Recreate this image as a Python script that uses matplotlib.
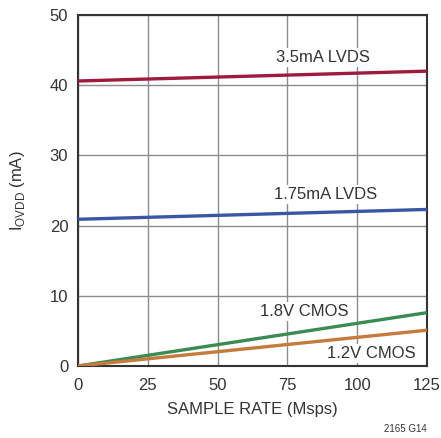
import matplotlib
matplotlib.use("Agg")
import matplotlib.pyplot as plt
import numpy as np

plt.rcParams['font.family'] = ['Liberation Sans Narrow', 'Liberation Sans', 'DejaVu Sans']
plt.rcParams['mathtext.fontset'] = 'custom'
plt.rcParams['mathtext.rm'] = 'Liberation Sans'

sample_rate = [0, 125]
lvds_35 = [40.6, 42.0]
lvds_175 = [20.9, 22.3]
cmos_18 = [0.0, 7.6]
cmos_12 = [0.0, 5.1]
labels = ["3.5mA LVDS", "1.75mA LVDS", "1.8V CMOS", "1.2V CMOS"]
colors = ["#9e1b3e", "#3c56a6", "#3b8c52", "#c47b3c"]
xticks = [0, 25, 50, 75, 100, 125]
yticks = [0, 10, 20, 30, 40, 50]

fig = plt.figure(figsize=(4.41, 4.38), dpi=100)
ax = fig.add_axes([78/441, 1-366/438, 349/441, 351/438])

series = [lvds_35, lvds_175, cmos_18, cmos_12]
for s, c in zip(series, colors):
    ax.plot(sample_rate, s, color=c, lw=2.4, solid_capstyle='butt', zorder=3)

ax.set_xlim(0, 125)
ax.set_ylim(0, 50)
ax.set_xticks(xticks)
ax.set_yticks(yticks)
ax.grid(True, color='#8c8c8c', lw=1.0, zorder=1)
ax.tick_params(length=0, labelsize=12, colors='#333333')
ax.tick_params(axis='x', pad=9)
ax.tick_params(axis='y', pad=7)
for sp in ax.spines.values():
    sp.set_color('#333333')
    sp.set_linewidth(1.5)

txt_pos = [(87.7, 44.0), (88.5, 24.4), (81, 7.7), (105, 1.85)]
for lab, (x, y) in zip(labels, txt_pos):
    ax.text(x, y, lab, ha='center', va='center', fontsize=12, color='#333333',
            bbox=dict(facecolor='white', edgecolor='none', pad=1.5), zorder=2)

ax.set_xlabel("SAMPLE RATE (Msps)", fontsize=12, color='#333333', labelpad=6)
ax.set_ylabel(r"I$_{\mathrm{OVDD}}$ (mA)", fontsize=12, color='#333333', labelpad=16)

fig.text(427/441, 1-429/438, "2165 G14", ha='right', va='center', fontsize=7, color='#333333')

fig.savefig("out.png", dpi=100)
